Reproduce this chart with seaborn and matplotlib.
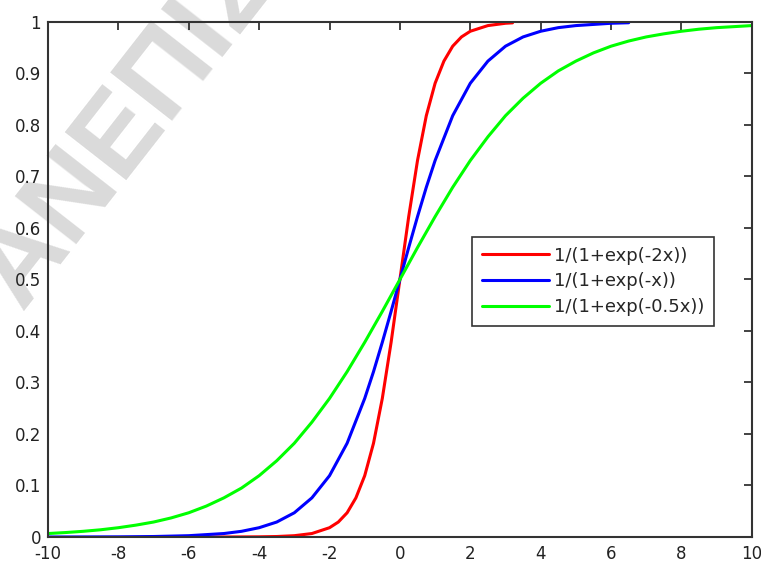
import numpy as np
import pandas as pd
import matplotlib
matplotlib.use("Agg")
import matplotlib.pyplot as plt
import seaborn as sns

# Sampled curve values
x_red = [-5.5, -5, -4.5, -4, -3.5, -3, -2.5, -2, -1.75, -1.5, -1.25, -1, -0.75,
         -0.5, -0.25, 0, 0.25, 0.5, 0.75, 1, 1.25, 1.5, 1.75, 2, 2.5, 3, 3.2]
y_red = [0.000, 0.000, 0.0001, 0.0003, 0.0009, 0.0025, 0.0067, 0.018, 0.029, 0.047,
         0.076, 0.119, 0.182, 0.269, 0.378, 0.500, 0.622, 0.731, 0.818, 0.881,
         0.924, 0.953, 0.971, 0.982, 0.993, 0.9975, 0.9983]

x_blue = [-10, -9, -8, -7, -6, -5, -4.5, -4, -3.5, -3, -2.5, -2, -1.5, -1, -0.75,
          -0.5, -0.25, 0, 0.25, 0.5, 0.75, 1, 1.5, 2, 2.5, 3, 3.5, 4, 4.5, 5, 6, 6.5]
y_blue = [0.0000, 0.0001, 0.0003, 0.0009, 0.0025, 0.0067, 0.011, 0.018, 0.029, 0.047,
          0.076, 0.119, 0.182, 0.269, 0.321, 0.378, 0.438, 0.500, 0.562, 0.622,
          0.679, 0.731, 0.818, 0.881, 0.924, 0.953, 0.971, 0.982, 0.989, 0.993,
          0.9975, 0.9985]

x_green = [-10, -9.5, -9, -8.5, -8, -7.5, -7, -6.5, -6, -5.5, -5, -4.5, -4, -3.5,
           -3, -2.5, -2, -1.5, -1, -0.5, 0, 0.5, 1, 1.5, 2, 2.5, 3, 3.5, 4, 4.5,
           5, 5.5, 6, 6.5, 7, 7.5, 8, 8.5, 9, 9.5, 10]
y_green = [0.0067, 0.0086, 0.011, 0.014, 0.018, 0.023, 0.029, 0.037, 0.047, 0.060,
           0.076, 0.095, 0.119, 0.148, 0.182, 0.223, 0.269, 0.321, 0.378, 0.438,
           0.500, 0.562, 0.622, 0.679, 0.731, 0.777, 0.818, 0.852, 0.881, 0.905,
           0.924, 0.940, 0.953, 0.963, 0.971, 0.977, 0.982, 0.986, 0.989, 0.991,
           0.993]

labels = ["1/(1+exp(-2x))", "1/(1+exp(-x))", "1/(1+exp(-0.5x))"]
colors = ["#ff0000", "#0000ff", "#00ff00"]
x_ticks = [-10, -8, -6, -4, -2, 0, 2, 4, 6, 8, 10]
y_ticks = [0, 0.1, 0.2, 0.3, 0.4, 0.5, 0.6, 0.7, 0.8, 0.9, 1]
y_tick_labels = ["0", "0.1", "0.2", "0.3", "0.4", "0.5", "0.6", "0.7",
                 "0.8", "0.9", "1"]

frames = [
    pd.DataFrame({"x": x_red, "y": y_red, "curve": labels[0]}),
    pd.DataFrame({"x": x_blue, "y": y_blue, "curve": labels[1]}),
    pd.DataFrame({"x": x_green, "y": y_green, "curve": labels[2]}),
]
df = pd.concat(frames, ignore_index=True)

sns.set_style("white")
plt.rcParams["font.family"] = ["DejaVu Sans"]
plt.rcParams["axes.unicode_minus"] = False

fig = plt.figure(figsize=(7.61, 5.65), dpi=100)
fig.patch.set_facecolor("white")

# Faint diagonal watermark behind the axes
fig.text(0.028, 0.449, "ΑΝΕΠΙΣΗΜΟ", rotation=52, rotation_mode="anchor",
         ha="left", va="baseline", fontsize=81, fontweight="bold",
         family="Liberation Sans", color="#dadada", zorder=0)

ax = fig.add_axes([0.063, 0.0496, 0.925, 0.9115])
ax.set_zorder(1)
ax.set_facecolor("none")

sns.lineplot(data=df, x="x", y="y", hue="curve", hue_order=labels,
             palette=colors, linewidth=2.2, sort=False, ax=ax,
             estimator=None)

ax.set_xlim(-10, 10)
ax.set_ylim(0, 1)
ax.set_xticks(x_ticks)
ax.set_yticks(y_ticks)
ax.set_yticklabels(y_tick_labels)
ax.set_xlabel("")
ax.set_ylabel("")
ax.tick_params(direction="in", length=6, width=1.2, top=True, right=True,
               labelsize=12, colors="#222222")
ax.tick_params(axis="x", pad=6)
ax.tick_params(axis="y", pad=5)
for s in ax.spines.values():
    s.set_visible(True)
    s.set_color("#333333")
    s.set_linewidth(1.5)

leg = ax.legend(loc="upper left", bbox_to_anchor=(0.602, 0.583),
                frameon=True, fancybox=False, fontsize=13,
                handlelength=3.75, handletextpad=0.25, borderpad=0.55,
                labelspacing=0.42, borderaxespad=0)
leg.get_frame().set_edgecolor("#333333")
leg.get_frame().set_linewidth(1.2)
leg.get_frame().set_alpha(1)
for line in leg.get_lines():
    line.set_linewidth(2.2)

fig.savefig("out.png", dpi=100)
